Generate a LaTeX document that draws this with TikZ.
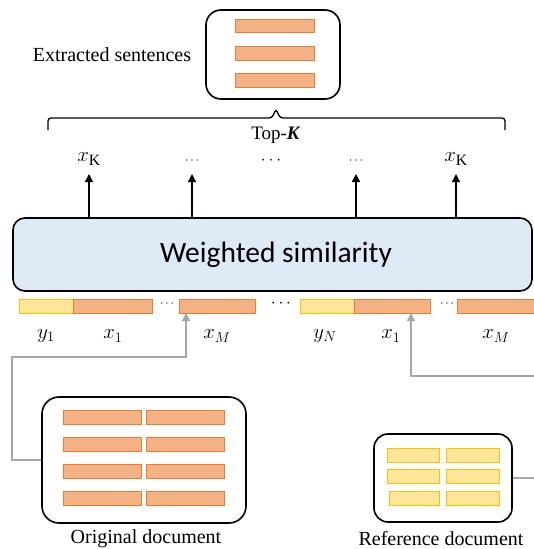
\documentclass[tikz,border=0pt]{standalone}
\usepackage{fontspec}
\setmainfont{Liberation Serif}
\newfontfamily\calibfont{Carlito}
\usetikzlibrary{arrows.meta,fit}
\definecolor{obarfill}{HTML}{F4B183}
\definecolor{obardraw}{HTML}{ED7D31}
\definecolor{ybarfill}{HTML}{FFE699}
\definecolor{ybardraw}{HTML}{FFC000}
\definecolor{wsfill}{HTML}{DEEBF7}
\definecolor{garrow}{HTML}{A6A6A6}
\begin{document}
\begin{tikzpicture}[x=1pt,y=-1pt,
  obar/.style={draw=obardraw, fill=obarfill, line width=0.9pt, inner sep=0pt},
  ybar/.style={draw=ybardraw, fill=ybarfill, line width=0.9pt, inner sep=0pt},
  docbox/.style={draw=black, line width=1.6pt, rounded corners=15pt, inner sep=0pt, fill=white},
  lbl/.style={font=\fontsize{20}{24}\selectfont, inner sep=0pt},
  mlbl/.style={font=\fontsize{22.5}{26}\selectfont, inner sep=0pt},
  dotsm/.style={font=\fontsize{12}{14}\selectfont, inner sep=0pt},
  dotlg/.style={font=\fontsize{16}{18}\selectfont, inner sep=0pt},
  upar/.style={-{Triangle[length=8pt,width=8pt]}, line width=1.6pt},
  grar/.style={draw=garrow, line width=1.5pt, -{Triangle[length=8pt,width=8pt]}}]
\useasboundingbox (0,0) rectangle (533,549);

% Extracted sentences box
\node[docbox, fit={(206,10)(340,99)}] (ext) {};
\node[obar, fit={(235,19)(314,32)}] (e1) {};
\node[obar, fit={(235,46)(314,60)}] (e2) {};
\node[obar, fit={(235,73)(314,87)}] (e3) {};
\node[lbl] (exttext) at (112,55) {Extracted sentences};

% brace
\draw[line width=1.3pt, rounded corners=3pt] (48,130) -- (48,118) -- (272,118) -- (276,109) -- (280,118) -- (505,118) -- (505,130);
\node[font=\fontsize{19}{22}\selectfont, inner sep=0pt] (topk) at (276,135) {Top-\textbf{\textit{K}}};

% top labels
\node[mlbl] (k1) at (89,159) {$x_{\mathrm{K}}$};
\node[dotsm] (d1) at (192,161) {$\cdots$};
\node[dotlg] (d2) at (271,161) {$\cdots$};
\node[dotsm] (d3) at (356,161) {$\cdots$};
\node[mlbl] (k2) at (456,159) {$x_{\mathrm{K}}$};
\coordinate (a1) at (89,174);
\coordinate (a2) at (192,174);
\coordinate (a3) at (356,174);
\coordinate (a4) at (456,174);

% weighted similarity
\node[draw=black, line width=1.6pt, fill=wsfill, rounded corners=12pt, inner sep=0pt, fit={(13,218)(532,291)}] (ws) {};
\node[font=\calibfont\fontsize{29.5}{34}\selectfont, inner sep=0pt] (wstext) at (276,255) {Weighted similarity};

\foreach \c in {a1,a2,a3,a4}
  \draw[upar] (ws.north -| \c) -- (\c);

% bar row
\node[ybar, fit={(19,299)(73,313)}] (by1) {};
\node[obar, fit={(73,299)(152,313)}] (bx1) {};
\node[dotsm] (dd1) at (167,304) {$\cdots$};
\node[obar, fit={(179,299)(255,313)}] (bxM) {};
\node[dotlg] (dd2) at (281,304) {$\cdots$};
\node[ybar, fit={(300,299)(354,313)}] (byN) {};
\node[obar, fit={(354,299)(430,313)}] (bx1b) {};
\node[dotsm] (dd3) at (447,304) {$\cdots$};
\node[obar, fit={(457,299)(545,313)}] (bxMb) {};

% bar labels
\node[mlbl] (ly1) at (46,336) {$y_1$};
\node[mlbl] (lx1) at (113,336) {$x_1$};
\node[mlbl] (lxM) at (217,336) {$x_M$};
\node[mlbl] (lyN) at (325,336) {$y_N$};
\node[mlbl] (lx1b) at (391,336) {$x_1$};
\node[mlbl] (lxMb) at (496,336) {$x_M$};

% Original document
\node[docbox, rounded corners=17pt, fit={(42,397)(246,523)}] (orig) {};
\foreach \ya/\yb [count=\i] in {410/424,437/451,464/478,491/505}{
  \node[obar, fit={(63,\ya)(141,\yb)}] (oa\i) {};
  \node[obar, fit={(146,\ya)(224,\yb)}] (ob\i) {};
}
\node[lbl] (origtext) at (146,539) {Original document};

% Reference document
\node[docbox, rounded corners=14pt, fit={(374,434)(512,522)}] (ref) {};
\node[ybar, fit={(387,448)(439,462)}] (ra1) {};
\node[ybar, fit={(446,448)(499,462)}] (rb1) {};
\node[ybar, fit={(387,469)(439,483)}] (ra2) {};
\node[ybar, fit={(446,469)(499,483)}] (rb2) {};
\node[ybar, fit={(389,491)(439,505)}] (ra3) {};
\node[ybar, fit={(446,491)(499,505)}] (rb3) {};
\node[lbl] (reftext) at (441,539) {Reference document};

% gray connectors
\coordinate (t1) at (186,313);
\coordinate (t2) at (411,313);
\draw[grar] (orig.west) -| (12,357) -| (t1);
\draw[grar] (ref.east) -| (545,376) -| (t2);
\end{tikzpicture}
\end{document}
